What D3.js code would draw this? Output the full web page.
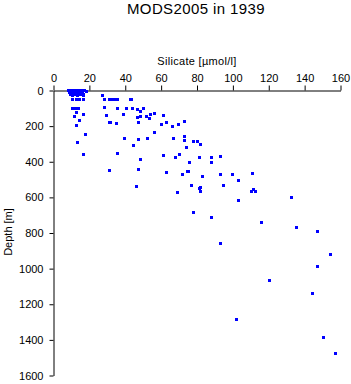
<!DOCTYPE html>
<html>
<head>
<meta charset="utf-8">
<script src="https://cdn.jsdelivr.net/npm/d3@7"></script>
<style>
  body { margin: 0; background: #fff; }
  svg { display: block; font-family: "Liberation Sans", Arial, sans-serif; }
</style>
</head>
<body>
<svg id="chart"></svg>
<script>
/////////////////////////////////
// DATA
//////////////////////////////////

var title = "MODS2005 in 1939";
var xLabel = "Silicate [\u00b5mol/l]";
var yLabel = "Depth [m]";

var xTicks = [0, 20, 40, 60, 80, 100, 120, 140, 160];
var yTicks = [0, 200, 400, 600, 800, 1000, 1200, 1400, 1600];

// silicate [umol/l] and depth [m], one entry per sample
var silicate = [
  8.5, 9.5, 10.5, 11.5, 12.5, 13.5, 14.5, 15.5, 17.5, 18.5,
  9, 10, 11, 12, 13, 14, 15, 16, 17,
  9.5, 10.5, 12, 13.5, 15, 16.5,
  10.4, 12.6, 14.7, 16.9,
  10.8, 12.3, 13.8, 12.8, 16.5, 11.7, 14.7, 12.8, 17.8, 13.5, 16.5,
  27.1, 28.6, 31.2, 33.6, 28.6, 29.7, 31.4, 31.4,
  32.1, 34, 35.5, 42.9, 43.6,
  35.8, 40.5, 44.2, 46.6, 50.3, 48.5,
  38.8, 48.5, 51.7, 54.2, 56.5, 61.5, 53.5, 46.6,
  31.8, 35.3, 47.5, 60.2, 63, 66.3, 69.8, 73.2,
  56.5, 39.6, 47.5, 52.6, 67.1, 73.2, 73.2, 44.4,
  35.5, 48.3, 47.5, 46.4, 61.5, 68.2, 70.4, 74.3, 78.2, 80.4,
  76, 63.2, 72.1, 74.5, 75.4, 77.1, 69.3, 78.2, 81.5, 81.5,
  82.1, 88.2, 88.2, 93.1, 83.2, 93.1, 99.9, 110.9, 102.9,
  82.1, 82.1, 94.9, 110.2, 111.3, 112.8, 102.9, 88.2, 115.8,
  132.8, 135.6, 147.3, 93.1, 154.6, 147.3, 120.6, 144.5, 102, 150.7, 157.4
];
var depth = [
  0, 0, 0, 0, 0, 0, 0, 0, 0, 5,
  10, 10, 12, 10, 12, 10, 15, 10, 20,
  25, 30, 25, 30, 25, 30,
  52, 52, 52, 52,
  103, 103, 103, 124, 137, 146, 167, 199, 249, 294, 361,
  28, 52, 52, 52, 96, 139, 180, 451,
  52, 52, 52, 52, 52,
  103, 103, 99, 105, 103, 120,
  137, 146, 148, 135, 131, 142, 159, 153,
  180, 184, 181, 193, 180, 204, 193, 172,
  238, 268, 275, 271, 271, 258, 283, 309,
  356, 388, 446, 541, 367, 378, 361, 322, 285, 288,
  404, 462, 474, 453, 457, 532, 575, 687, 375, 552,
  303, 378, 404, 373, 483, 474, 474, 468, 504,
  547, 569, 535, 567, 558, 569, 616, 715, 743,
  603, 768, 790, 861, 923, 987, 1069, 1142, 1288, 1389, 1474
];

var samples = silicate.map(function(s, i) {
  return { si: s, depth: depth[i] };
});

/////////////////////////////////
// SET STATIC VARIABLES
//////////////////////////////////

var width = 351;
var height = 384;

var svg = d3.select("#chart")
  .attr("width", width)
  .attr("height", height);

/////////////////////////////////
// MAKE SCALES
//////////////////////////////////

var x = d3.scaleLinear()
  .domain([0, 160])
  .range([53.5, 340.5]);

var y = d3.scaleLinear()
  .domain([0, 1600])
  .range([90.5, 375.5]);

/////////////////////////////////
// TITLE AND LABELS
//////////////////////////////////

svg.append("text")
  .attr("x", 196)
  .attr("y", 14)
  .attr("text-anchor", "middle")
  .attr("font-size", 15)
  .attr("font-weight", "normal")
  .attr("letter-spacing", 0.4)
  .text(title);

svg.append("text")
  .attr("x", 197)
  .attr("y", 65)
  .attr("text-anchor", "middle")
  .attr("font-size", 11)
  .attr("letter-spacing", 0.3)
  .text(xLabel);

svg.append("text")
  .attr("transform", "translate(12,232) rotate(-90)")
  .attr("text-anchor", "middle")
  .attr("font-size", 11)
  .text(yLabel);

/////////////////////////////////
// AXES
//////////////////////////////////

var xAxis = svg.append("g")
  .attr("transform", "translate(0,90.5)")
  .call(d3.axisTop(x).tickValues(xTicks).tickFormat(d3.format("d"))
    .tickSize(5).tickSizeOuter(0).tickPadding(4));

var yAxis = svg.append("g")
  .attr("transform", "translate(53.5,0)")
  .call(d3.axisLeft(y).tickValues(yTicks).tickFormat(d3.format("d"))
    .tickSize(4).tickSizeOuter(0).tickPadding(6));

[xAxis, yAxis].forEach(function(g) {
  g.attr("font-family", null).attr("font-size", 11);
  g.selectAll("path, line").attr("stroke", "#000").attr("stroke-width", 1);
  g.selectAll("text").attr("fill", "#000");
});

/////////////////////////////////
// DRAW THE POINTS
//////////////////////////////////

svg.append("g")
  .attr("shape-rendering", "crispEdges")
  .selectAll("rect")
  .data(samples)
  .enter()
  .append("rect")
  .attr("x", function(d) { return Math.floor(x(d.si)) - 1; })
  .attr("y", function(d) { return Math.floor(y(d.depth)) - 1; })
  .attr("width", 3)
  .attr("height", 3)
  .attr("fill", "#0000ff");
</script>
</body>
</html>
